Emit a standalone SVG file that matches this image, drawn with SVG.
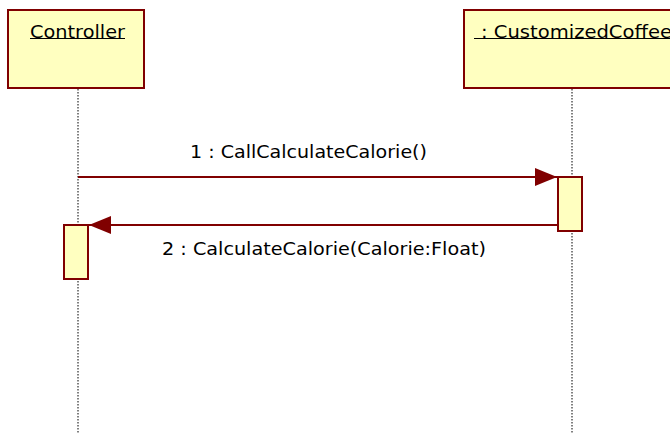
<svg xmlns="http://www.w3.org/2000/svg" width="670" height="434" viewBox="0 0 670 434">
<style>
.box{fill:#FFFFC0;stroke:#800000;stroke-width:2}
.life{stroke:#000;stroke-width:1;stroke-dasharray:1.5,1.5;fill:none}
.msg{stroke:#800000;stroke-width:2;fill:none}
.t{font-family:"DejaVu Sans",Verdana,sans-serif;font-size:17px;fill:#000}
.ul{stroke:#000;stroke-width:1}
</style>
<defs>
<marker id="ah" viewBox="0 0 22 18" refX="22" refY="9" markerWidth="22" markerHeight="18" markerUnits="userSpaceOnUse" orient="auto">
<path d="M0,0 L22,9 L0,18 Z" fill="#800000"/>
</marker>
</defs>
<g id="controller">
<rect class="box" x="8" y="10" width="136" height="78"/>
<text class="t" x="30" y="38" textLength="95" lengthAdjust="spacingAndGlyphs">Controller</text>
<line class="ul" x1="30" y1="38.5" x2="125" y2="38.5"/>
<line class="life" x1="78" y1="89" x2="78" y2="434"/>
<rect class="box" x="64" y="225" width="24" height="54"/>
</g>
<g id="customizedCoffee">
<rect class="box" x="464" y="10" width="216" height="78"/>
<text class="t" x="481" y="38" textLength="191" lengthAdjust="spacingAndGlyphs">: CustomizedCoffee</text>
<line class="ul" x1="474" y1="38.5" x2="670" y2="38.5"/>
<line class="life" x1="572" y1="89" x2="572" y2="434"/>
<rect class="box" x="558" y="177" width="24" height="54"/>
</g>
<g id="connectors">
<line class="msg" x1="78" y1="177" x2="557" y2="177" marker-end="url(#ah)"/>
<text class="t" x="190" y="158" textLength="237" lengthAdjust="spacingAndGlyphs">1 : CallCalculateCalorie()</text>
<line class="msg" x1="557" y1="225" x2="89" y2="225" marker-end="url(#ah)"/>
<text class="t" x="162" y="255" textLength="324" lengthAdjust="spacingAndGlyphs">2 : CalculateCalorie(Calorie:Float)</text>
</g>
</svg>
